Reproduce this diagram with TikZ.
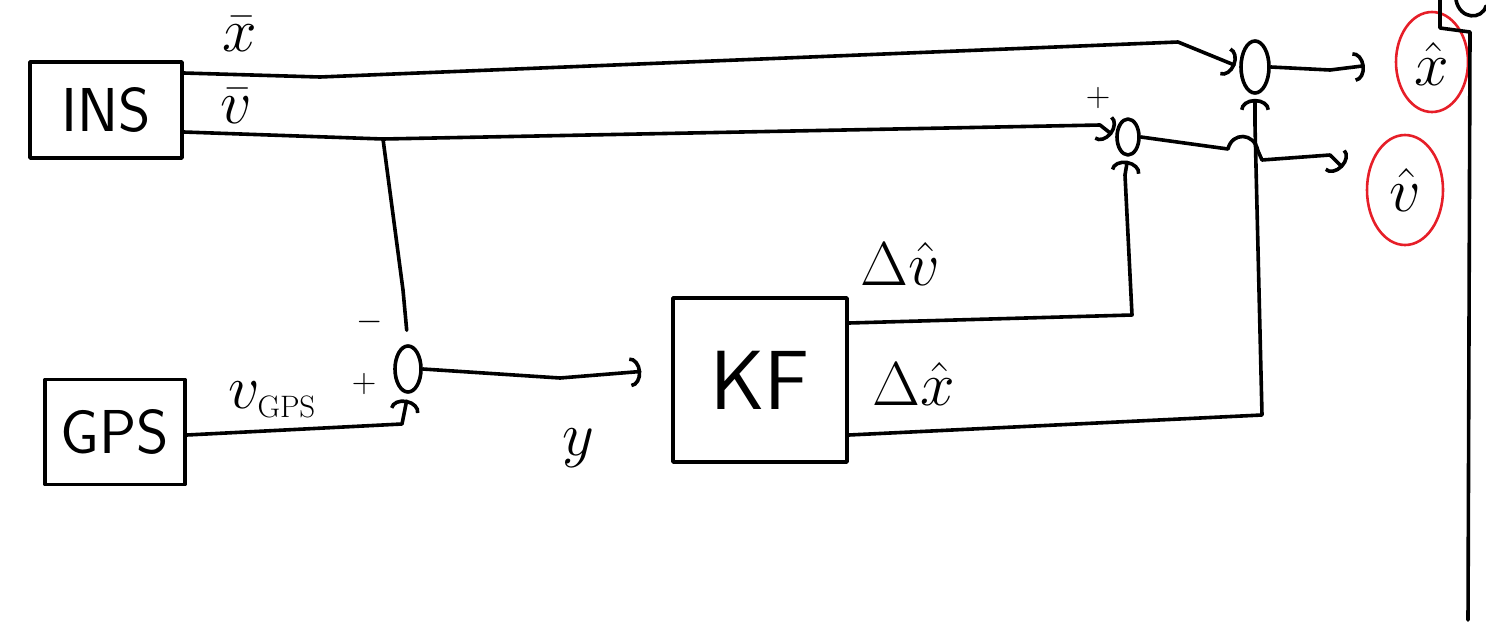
\RequirePackage{fix-cm}
\documentclass[tikz,border=0pt]{standalone}
\usepackage{fontspec}
\usetikzlibrary{arrows.meta,shapes.geometric,calc}
\definecolor{penred}{RGB}{230,30,40}
\begin{document}
\begin{tikzpicture}[x=1pt,y=-1pt,
  pen/.style={line width=3.6pt,line cap=round,line join=round},
  blk/.style={pen,draw,rectangle,inner sep=0pt},
  sumj/.style={pen,draw,ellipse,inner sep=0pt},
  outc/.style={draw=penred,line width=2.6pt,ellipse,inner sep=0pt},
  arr/.style={pen,-{Arc Barb[length=11pt,width=30pt,line width=3.6pt]}},
  lbl/.style={inner sep=0pt,font=\fontsize{62}{68}\selectfont},
  big/.style={font=\fontsize{62}{68}\selectfont\sffamily},
  huge/.style={font=\fontsize{84}{90}\selectfont\sffamily}]
\useasboundingbox (0,0) rectangle (1486,627);
% blocks
\node[blk,big,minimum width=152,minimum height=96] (ins) at (106,110) {INS};
\node[blk,big,minimum width=140,minimum height=105] (gps) at (115,432) {GPS};
\node[blk,huge,minimum width=174,minimum height=164] (kf) at (760,380) {KF};
% summing junctions
\node[sumj,minimum width=26,minimum height=46] (s1) at (408,369) {};
\node[sumj,minimum width=22,minimum height=36] (s2) at (1128,137) {};
\node[sumj,minimum width=28,minimum height=52] (s3) at (1255,67) {};
% outputs
\node[outc,minimum width=72,minimum height=100] (xh) at (1432,62) {};
\node[lbl] (xht) at (1432,64) {$\hat{x}$};
\node[outc,minimum width=76,minimum height=110] (vh) at (1405,190) {};
\node[lbl] (vht) at (1405,190) {$\hat{v}$};
% coordinates
\coordinate (b1) at (383,139);
% connectors
\draw[arr,shorten >=4pt] ([yshift=37pt]ins.east) -- (320,77) -- (1178,42) -- (s3.west);
\draw[arr,shorten >=4pt] ([yshift=-22pt]ins.east) -- (b1) -- (1100,125) -- (s2.west);
\draw[pen,shorten >=14pt] (b1) -- (403,290) -- (s1.north);
\draw[arr,shorten >=6pt] ([yshift=-3pt]gps.east) -- (402,424) -- (s1.south);
\draw[arr,shorten >=30pt] (s1.east) -- (560,378) -- (kf.west |- s1.east);
\draw[arr,shorten >=4pt] ([yshift=57pt]kf.east) -- (1132,315) -- (1125,175) -- (s2.south);
\draw[arr,shorten >=4pt] ([yshift=-55pt]kf.east) -- (1262,415) -- (1255,125) -- (s3.south);
\draw[arr,shorten >=30pt] (s3.east) -- (1330,70) -- (xh.west);
\coordinate (h1) at (1228,149);
\coordinate (h2) at (1258,151);
\draw[pen] (s2.east) -- (h1) .. controls (1232,132) and (1254,132) .. (h2);
\draw[arr,shorten >=32pt] (h2) -- (1262,160) -- (1330,155) -- (vh.west);
% labels
\node[lbl] (lx) at (240,34) {$\bar{x}$};
\node[lbl] (lv) at (236,106) {$\bar{v}$};
\node[lbl] (lvg) at (272,400) {$v_{\mathrm{\scriptscriptstyle GPS}}$};
\node[lbl,font=\fontsize{34}{38}\selectfont] (p1) at (364,384) {$+$};
\node[lbl,font=\fontsize{34}{38}\selectfont] (m1) at (370,322) {$-$};
\node[lbl] (ly) at (578,448) {$y$};
\node[lbl] (ldv) at (900,264) {$\Delta\hat{v}$};
\node[lbl] (ldx) at (914,384) {$\Delta\hat{x}$};
\node[lbl,font=\fontsize{34}{38}\selectfont] (p2) at (1098,98) {$+$};
% right border
\draw[pen] (1440,0) -- (1440,28) -- (1470,32) -- (1468,620);
\draw[pen] (1456,0) .. controls (1460,20) and (1482,20) .. (1486,6);
\end{tikzpicture}
\end{document}
